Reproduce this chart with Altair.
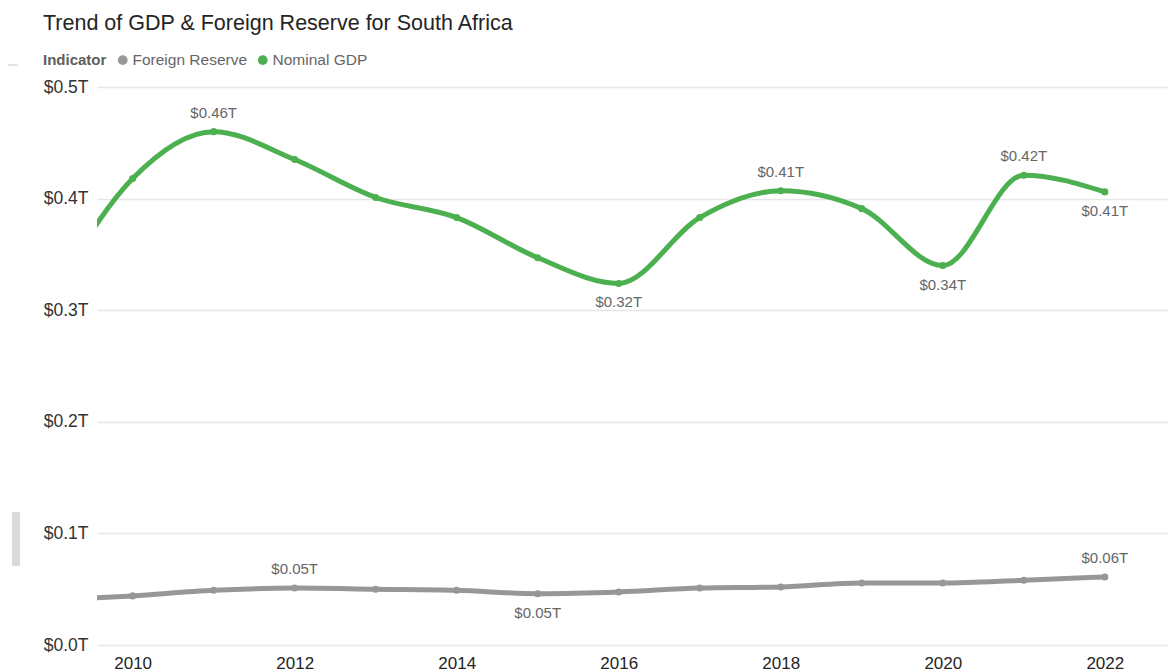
import altair as alt
import pandas as pd

years = list(range(2009, 2023))
nominal_gdp = [0.312, 0.418, 0.460, 0.435, 0.401, 0.383, 0.347, 0.324, 0.383, 0.407, 0.391, 0.340, 0.421, 0.406]
foreign_reserve = [0.040, 0.044, 0.049, 0.051, 0.050, 0.049, 0.046, 0.0475, 0.051, 0.052, 0.0555, 0.0555, 0.058, 0.061]

gdp_label_above = [2011, 2018, 2021]
gdp_label_below = [2016, 2020, 2022]
res_label_above = [2012, 2022]
res_label_below = [2015]

indicators = ["Foreign Reserve", "Nominal GDP"]
colors = ["#979797", "#4CAF50"]
FONT = "Liberation Sans"

rows = []
for y, v in zip(years, nominal_gdp):
    pos = "above" if y in gdp_label_above else ("below" if y in gdp_label_below else "none")
    rows.append({"Year": y, "Indicator": "Nominal GDP", "Series": "Nominal GDP", "Value": v, "pos": pos})
for y, v in zip(years, foreign_reserve):
    pos = "above" if y in res_label_above else ("below" if y in res_label_below else "none")
    rows.append({"Year": y, "Indicator": "Foreign Reserve", "Series": "Foreign Reserve", "Value": v, "pos": pos})
df = pd.DataFrame(rows)

x_enc = alt.X("Year:Q", scale=alt.Scale(domain=[2009.56, 2022.78], nice=False, zero=False),
              axis=alt.Axis(values=[2010, 2012, 2014, 2016, 2018, 2020, 2022], format="d", grid=False,
                            domain=False, ticks=False, labelFontSize=17, labelColor="#252423",
                            labelPadding=10, labelFont=FONT, title=None, labelOverlap=False))
y_enc = alt.Y("Value:Q", scale=alt.Scale(domain=[0, 0.5], nice=False),
              axis=alt.Axis(values=[0, 0.1, 0.2, 0.3, 0.4, 0.5], grid=True, gridColor="#E6E6E6",
                            gridWidth=1.5, domain=False, ticks=False, labelFontSize=17.5,
                            labelColor="#333333", labelPadding=9, labelFont=FONT, title=None,
                            labelExpr='"$" + format(datum.value, ".1f") + "T"'))
color_scale = alt.Scale(domain=indicators, range=colors)

base = alt.Chart(df)

lines = base.mark_line(interpolate="monotone", strokeWidth=5, clip=True).encode(
    x=x_enc, y=y_enc,
    stroke=alt.Stroke("Series:N", scale=alt.Scale(range=colors), legend=None),
    detail="Series:N",
)

points = base.mark_circle(size=50, opacity=1, clip=True).encode(
    x=x_enc, y=y_enc,
    color=alt.Color("Indicator:N", scale=color_scale,
                    legend=alt.Legend(title="Indicator", orient="none", legendX=-54, legendY=-35,
                                      direction="horizontal", titleOrient="left", titleFontSize=15,
                                      titleFont=FONT, titleColor="#605E5C", titleFontWeight="bold",
                                      titlePadding=8, labelFontSize=15.5, labelFont=FONT,
                                      labelColor="#666666", symbolType="circle", symbolSize=95,
                                      symbolStrokeWidth=0, labelOffset=2, columnPadding=7,
                                      padding=0)),
)

label_text = 'format(datum.Value, "$.2f") + "T"'

labels_above = base.transform_filter(alt.datum.pos == "above").transform_calculate(
    lbl=label_text).mark_text(dy=-19, fontSize=15, font=FONT, color="#666666", baseline="middle").encode(
    x=x_enc, y=y_enc, text="lbl:N")

labels_below = base.transform_filter(alt.datum.pos == "below").transform_calculate(
    lbl=label_text).mark_text(dy=19, fontSize=15, font=FONT, color="#666666", baseline="middle").encode(
    x=x_enc, y=y_enc, text="lbl:N")

deco = alt.Data(values=[{"k": 1}])
scroll_bar = alt.Chart(deco).mark_rect(color="#DADADA").encode(
    x=alt.value(-85), x2=alt.value(-77), y=alt.value(425), y2=alt.value(479))
dash = alt.Chart(deco).mark_rule(color="#C8C8C8", strokeWidth=1).encode(
    x=alt.value(-89), x2=alt.value(-79), y=alt.value(-22))

chart = alt.layer(lines, points, labels_above, labels_below, scroll_bar, dash).properties(
    width=1071, height=558,
    title=alt.TitleParams("Trend of GDP & Foreign Reserve for South Africa", anchor="start",
                          frame="group", dx=-54, fontSize=21.5, font=FONT, fontWeight="normal",
                          color="#252423", offset=1, baseline="alphabetic"),
    autosize=alt.AutoSizeParams(type="none"),
    padding={"left": 89, "top": 79, "right": 0, "bottom": 28},
).configure_view(stroke=None)

chart.save("out.html", embed_options={"renderer": "svg", "actions": False})
